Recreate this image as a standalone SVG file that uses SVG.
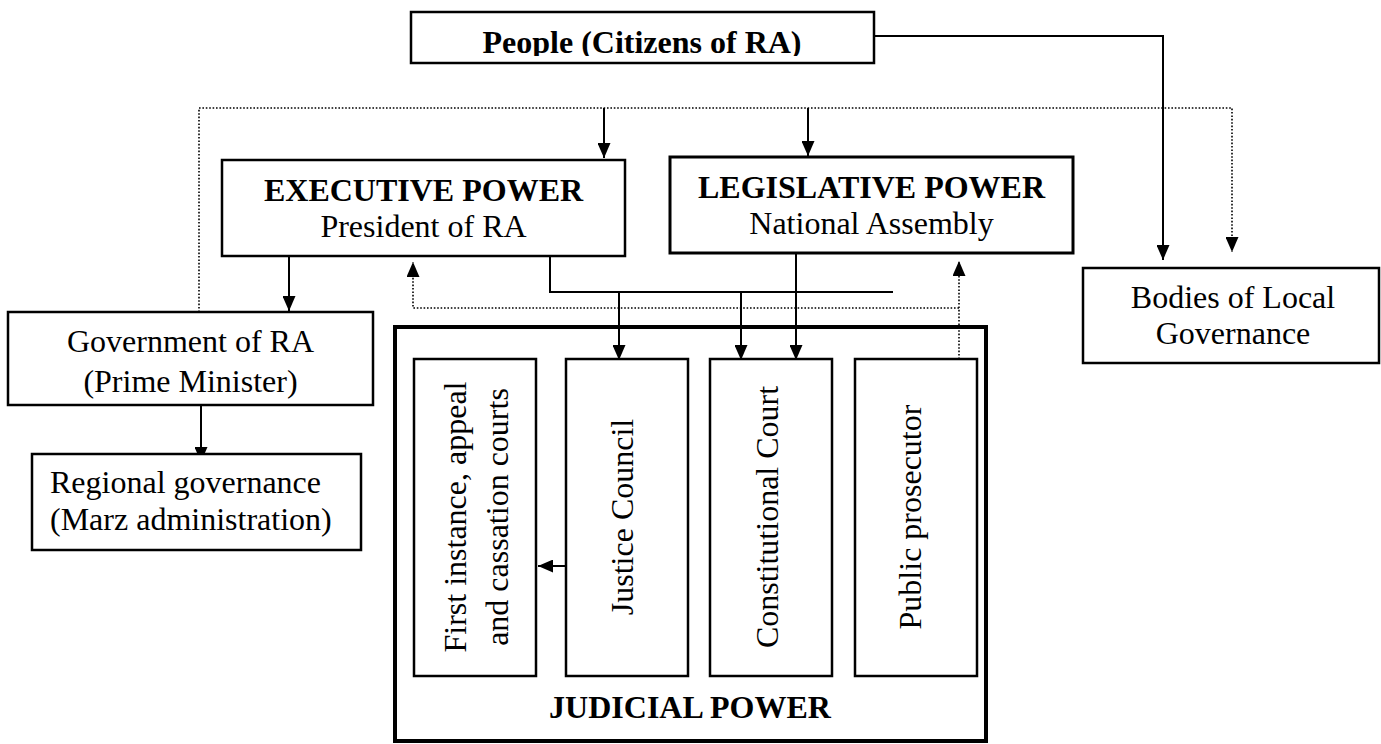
<svg xmlns="http://www.w3.org/2000/svg" width="1381" height="744" viewBox="0 0 1381 744">
<style>
.box{fill:#fff;stroke:#000;stroke-width:2.5}
.thick{fill:none;stroke:#000;stroke-width:4}
.t{font-family:"Liberation Serif","Times New Roman",serif;font-size:32px;fill:#000}
.b{font-weight:bold}
.c{text-anchor:middle}
.ln{fill:none;stroke:#000;stroke-width:2}
.dot{fill:none;stroke:#000;stroke-width:1.6;stroke-dasharray:1.6 1.8}
</style>
<defs>
<marker id="ah" viewBox="0 0 15 13" markerWidth="15" markerHeight="13" refX="15" refY="6.5" orient="auto" markerUnits="userSpaceOnUse">
<path d="M0,0 L15,6.5 L0,13 z" fill="#000"/>
</marker>
<clipPath id="pc"><rect x="411" y="12" width="463" height="44"/></clipPath>
</defs>
<rect width="1381" height="744" fill="#fff"/>

<g id="connectors">
<path class="ln" d="M874,36 H1163 V260" marker-end="url(#ah)"/>
<path class="dot" d="M199,312 V108 H1232 V252" marker-end="url(#ah)"/>
<path class="ln" d="M604,108 V158" marker-end="url(#ah)"/>
<path class="ln" d="M808,108 V156" marker-end="url(#ah)"/>
<path class="ln" d="M289,256 V311" marker-end="url(#ah)"/>
<path class="ln" d="M201,405 V462" marker-end="url(#ah)"/>
<path class="ln" d="M550,256 V292 H893"/>
<path class="ln" d="M619,292 V360" marker-end="url(#ah)"/>
<path class="ln" d="M741,292 V360" marker-end="url(#ah)"/>
<path class="ln" d="M796,253 V360" marker-end="url(#ah)"/>
<path class="dot" d="M959,359 V261" marker-end="url(#ah)"/>
<path class="dot" d="M959,308 H413 V262" marker-end="url(#ah)"/>
<path class="ln" d="M567,566 H538" marker-end="url(#ah)"/>
</g>

<g id="people">
<rect class="box" x="411" y="12" width="463" height="51"/>
<text class="t b c" x="642" y="53" clip-path="url(#pc)">People (Citizens of RA)</text>
</g>

<g id="executive">
<rect class="box" x="222" y="160" width="403" height="96"/>
<text class="t b c" x="423.5" y="201">EXECUTIVE POWER</text>
<text class="t c" x="423.5" y="237">President of RA</text>
</g>

<g id="legislative">
<rect class="box" x="670" y="157" width="403" height="96" style="stroke-width:3"/>
<text class="t b c" x="871.5" y="198">LEGISLATIVE POWER</text>
<text class="t c" x="871.5" y="234">National Assembly</text>
</g>

<g id="government">
<rect class="box" x="8" y="312" width="365" height="93"/>
<text class="t c" x="190.5" y="352">Government of RA</text>
<text class="t c" x="190.5" y="392">(Prime Minister)</text>
</g>

<g id="regional">
<rect class="box" x="32" y="454" width="329" height="96"/>
<text class="t" x="50" y="493">Regional governance</text>
<text class="t" x="50" y="530">(Marz administration)</text>
</g>

<g id="local">
<rect class="box" x="1083" y="268" width="296" height="95"/>
<text class="t c" x="1233" y="308">Bodies of Local</text>
<text class="t c" x="1233" y="344">Governance</text>
</g>

<g id="judicial">
<rect class="thick" x="395" y="327" width="591" height="414"/>
<text class="t b c" x="690" y="718">JUDICIAL POWER</text>
</g>

<g id="courts">
<rect class="box" x="414" y="359" width="122" height="317"/>
<text class="t c" transform="translate(466,517) rotate(-90)">First instance, appeal</text>
<text class="t c" transform="translate(508,517) rotate(-90)">and cassation courts</text>
</g>

<g id="justice-council">
<rect class="box" x="566" y="359" width="122" height="317"/>
<text class="t c" transform="translate(633,517) rotate(-90)">Justice Council</text>
</g>

<g id="constitutional-court">
<rect class="box" x="710" y="359" width="122" height="317"/>
<text class="t c" transform="translate(778,517) rotate(-90)">Constitutional Court</text>
</g>

<g id="public-prosecutor">
<rect class="box" x="855" y="359" width="122" height="317"/>
<text class="t c" transform="translate(921,517) rotate(-90)">Public prosecutor</text>
</g>
</svg>
